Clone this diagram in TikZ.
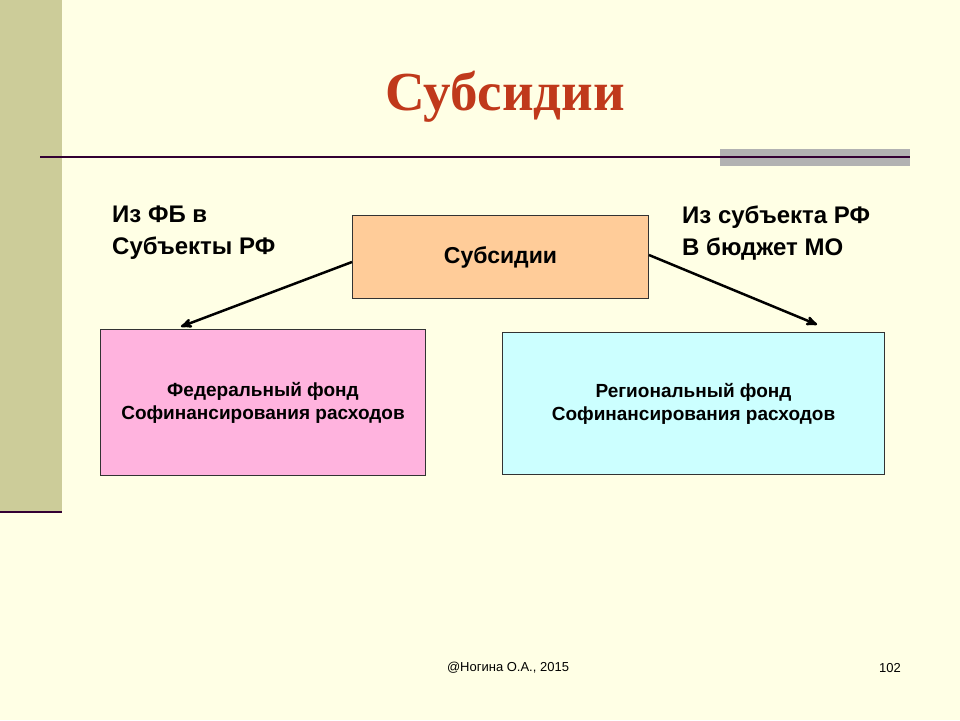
\documentclass[tikz,border=0pt]{standalone}
\usepackage{fontspec}
\setmainfont{Liberation Serif}
\setsansfont{Liberation Sans}
\usetikzlibrary{arrows}
\definecolor{cream}{HTML}{FFFFE5}
\definecolor{strip}{HTML}{CCCC99}
\definecolor{plum}{HTML}{330033}
\definecolor{rust}{HTML}{C0391B}
\definecolor{peach}{HTML}{FFCC99}
\definecolor{rose}{HTML}{FFB3DE}
\definecolor{aqua}{HTML}{CCFFFF}

\begin{document}
\begin{tikzpicture}[x=1pt,y=-1pt,->,>=stealth',
  box/.style={draw=black!80,line width=1pt,anchor=north west,inner sep=0pt,
    font=\sffamily\bfseries\fontsize{19}{23}\selectfont,align=center},
  note/.style={anchor=north west,align=left,inner sep=0pt,
    font=\sffamily\bfseries\fontsize{24}{32}\selectfont}]

  % background and decoration
  \fill[cream] (0,0) rectangle (960,720);
  \useasboundingbox (0,0) rectangle (960,720);
  \fill[strip] (0,0) rectangle (62,512);
  \draw[-,plum,line width=2.5pt] (0,512) -- (62,512);
  \fill[black!30] (720,149) rectangle (910,166);
  \draw[-,plum,line width=1.5pt] (40,157) -- (910,157);

  \node[font=\bfseries\fontsize{55}{60}\selectfont,text=rust] (title) at (505,97) {Субсидии};

  \node[box,fill=peach,minimum width=296pt,minimum height=83pt,
    font=\sffamily\bfseries\fontsize{23}{26}\selectfont] (sub) at (352,215) {Субсидии};
  \node[box,fill=rose,minimum width=325pt,minimum height=146pt] (fed) at (100,329)
    {Федеральный фонд\\Софинансирования расходов};
  \node[box,fill=aqua,minimum width=382pt,minimum height=142pt] (reg) at (502,332)
    {Региональный фонд\\Софинансирования расходов};

  \node[note] (left) at (112,206) {Из ФБ в\\Субъекты РФ};
  \node[note] (right) at (682,206) {Из субъекта РФ\\В бюджет МО};

  \path[line width=2.5pt,shorten >=1pt]
    (sub.west |- 0,262) edge (180,327)
    (sub.east |- 0,255) edge (818,325);

  \node[font=\sffamily\fontsize{13}{15}\selectfont] (author) at (508,668) {@Ногина О.А., 2015};
  \node[font=\sffamily\fontsize{13}{15}\selectfont] (page) at (890,668) {102};
\end{tikzpicture}
\end{document}
